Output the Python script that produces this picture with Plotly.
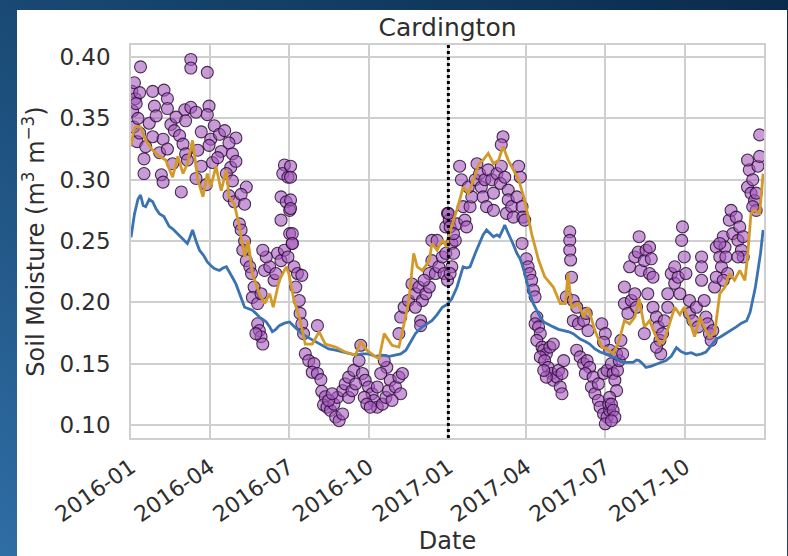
import base64
from datetime import date, timedelta

import plotly.graph_objects as go

# ---- data: day offsets from 2016-01-01 and volumetric soil moisture ----
START = date(2016, 1, 1)

model_a_day = [0, 4, 8, 11, 14, 17, 21, 25, 29, 33, 38, 41, 44, 48, 52, 56, 60, 65, 68, 71, 75, 79,
               84, 88, 92, 96, 102, 106, 110, 115, 118, 121, 126, 131, 135, 140, 144, 148, 152, 156,
               160, 163, 167, 171, 177, 183, 190, 197, 205, 213, 220, 228, 236, 244, 251, 259, 266,
               274, 282, 290, 298, 305, 311, 317, 322, 328, 336, 342, 347, 353, 359, 364, 370, 376,
               380, 383, 387, 391, 397, 402, 406, 410, 414, 418, 422, 425, 428, 431, 434, 437, 441,
               445, 449, 452, 456, 460, 464, 468, 472, 476, 481, 487, 493, 499, 505, 510, 514, 518,
               524, 529, 535, 541, 547, 552, 556, 560, 564, 567, 573, 579, 583, 586, 590, 594, 600,
               606, 611, 617, 623, 629, 634, 640, 646, 652, 658, 663, 669, 675, 680, 686, 692, 698,
               704, 710, 714, 717, 720, 723, 726, 729]
model_a_sm = [0.253, 0.272, 0.284, 0.2875, 0.279, 0.278, 0.284, 0.282, 0.276, 0.272, 0.270, 0.266,
              0.262, 0.260, 0.257, 0.254, 0.251, 0.248, 0.253, 0.259, 0.250, 0.2425, 0.238, 0.233,
              0.230, 0.2275, 0.226, 0.228, 0.229, 0.222, 0.219, 0.215, 0.205, 0.196, 0.195, 0.1935,
              0.191, 0.188, 0.186, 0.184, 0.180, 0.176, 0.178, 0.181, 0.183, 0.184, 0.179, 0.1745,
              0.171, 0.168, 0.165, 0.162, 0.161, 0.1595, 0.158, 0.157, 0.158, 0.158, 0.156, 0.157,
              0.156, 0.157, 0.158, 0.161, 0.167, 0.1745, 0.180, 0.183, 0.185, 0.190, 0.196, 0.198,
              0.203, 0.2125, 0.222, 0.229, 0.228, 0.229, 0.240, 0.249, 0.255, 0.259, 0.256, 0.2535,
              0.255, 0.2535, 0.258, 0.263, 0.258, 0.2535, 0.247, 0.240, 0.235, 0.229, 0.218, 0.207,
              0.199, 0.1935, 0.188, 0.184, 0.182, 0.180, 0.178, 0.177, 0.176, 0.1745, 0.172, 0.170,
              0.168, 0.166, 0.162, 0.1595, 0.158, 0.157, 0.155, 0.154, 0.152, 0.151, 0.151, 0.151,
              0.153, 0.1525, 0.150, 0.147, 0.148, 0.150, 0.151, 0.1525, 0.156, 0.163, 0.160, 0.158,
              0.159, 0.157, 0.158, 0.1595, 0.165, 0.170, 0.172, 0.1745, 0.177, 0.180, 0.183, 0.185,
              0.192, 0.2015, 0.212, 0.226, 0.240, 0.259]

model_b_day = [0, 3, 5, 11, 17, 25, 33, 40, 48, 54, 60, 65, 71, 77, 83, 88, 92, 98, 104, 110, 113,
               119, 125, 131, 135, 140, 148, 154, 160, 164, 171, 179, 182, 188, 194, 201, 209, 217,
               224, 236, 247, 259, 265, 272, 282, 286, 292, 301, 309, 315, 320, 326, 330, 336, 344,
               347, 353, 359, 364, 367, 372, 377, 383, 389, 395, 401, 406, 412, 418, 424, 429, 435,
               441, 447, 454, 462, 470, 477, 487, 495, 501, 504, 508, 516, 522, 527, 535, 543, 548,
               556, 563, 569, 575, 581, 586, 592, 598, 604, 610, 615, 621, 627, 633, 638, 644, 650,
               656, 661, 667, 673, 679, 685, 690, 696, 702, 708, 711, 715, 719, 725, 729]
model_b_sm = [0.327, 0.340, 0.343, 0.343, 0.332, 0.324, 0.319, 0.316, 0.302, 0.319, 0.305, 0.313,
              0.332, 0.300, 0.286, 0.305, 0.294, 0.311, 0.291, 0.308, 0.286, 0.2805, 0.262, 0.237,
              0.2505, 0.2235, 0.207, 0.199, 0.207, 0.196, 0.218, 0.229, 0.2235, 0.2015, 0.188,
              0.166, 0.166, 0.176, 0.166, 0.1635, 0.1595, 0.157, 0.168, 0.161, 0.1555, 0.154,
              0.1745, 0.165, 0.1635, 0.1825, 0.199, 0.240, 0.229, 0.226, 0.234, 0.248, 0.2425,
              0.251, 0.245, 0.256, 0.267, 0.278, 0.294, 0.289, 0.300, 0.313, 0.316, 0.3215, 0.313,
              0.316, 0.327, 0.316, 0.308, 0.300, 0.2835, 0.256, 0.2345, 0.221, 0.2125, 0.199,
              0.199, 0.2235, 0.196, 0.199, 0.188, 0.196, 0.177, 0.1635, 0.1625, 0.158, 0.169,
              0.185, 0.1825, 0.188, 0.203, 0.180, 0.185, 0.1745, 0.166, 0.169, 0.1825, 0.196,
              0.190, 0.196, 0.185, 0.172, 0.188, 0.180, 0.172, 0.1745, 0.207, 0.2125, 0.2235,
              0.218, 0.226, 0.218, 0.237, 0.2725, 0.275, 0.2725, 0.305]

# in-situ observations (COSMOS probe), grouped by season
obs_day = [
    # winter / spring 2016
    1, 2, 3, 5, 7, 11, 69, 69, 88,
    4, 10, 25, 38, 42,
    6, 27, 42, 62, 69, 90,
    8, 21, 29, 46, 52, 63, 75, 88, 96,
    10, 25, 37, 50, 56, 81, 92, 102, 108, 121,
    17, 33, 42, 60, 63, 77, 90, 104, 113, 117,
    15, 48, 65, 81, 94, 100, 115, 121,
    15, 35, 37, 75, 87, 110, 117, 133,
    58, 113, 119, 127, 131,
    # drying, early summer 2016
    125, 127, 131, 129, 133, 137, 139, 142, 140, 146, 150, 154, 160, 165, 167, 169, 173, 177,
    181, 156, 152,
    146, 148, 150, 152, 144,
    177, 175, 181, 173, 179, 183, 173, 183, 186,
    184, 184, 184, 184, 186, 186, 188, 192, 197, 190, 194, 195, 197, 199, 215,
    # late summer / autumn 2016
    201, 205, 211, 209, 215, 219, 220, 224, 222, 226, 230, 236, 240, 244, 234, 238, 244, 247,
    251, 257, 263, 265, 267, 270, 274, 278, 280, 284, 290, 294, 297, 299, 305, 309, 313, 311,
    301, 295, 292, 288, 284, 251, 255, 259, 269, 272, 276, 228, 232,
    309, 311, 315, 320, 324, 328, 332, 336, 340, 344, 344, 338, 334, 334, 328, 347, 351, 355,
    359, 363, 361, 365, 347, 363, 365, 367, 353,
    # winter / spring 2017
    366, 368, 370, 372, 370, 368, 374, 376, 372,
    379, 381, 383, 385, 387, 391, 393, 389, 397, 399, 402, 404, 406, 410, 408, 412, 416, 418,
    418, 422, 426, 427, 429, 427, 431, 435, 435, 433, 439, 441, 445, 447, 449, 451, 452, 454,
    451,
    456, 458, 460, 462, 464, 466, 468, 466, 470, 472, 468, 474, 476, 479, 483, 487, 472, 477,
    481, 485, 487, 491, 493, 497, 495, 497, 499, 479, 476,
    # summer 2017
    506, 506, 506, 507, 508, 502, 510, 514, 510, 516, 522, 525, 527, 543, 547, 545,
    514, 518, 522, 526, 529, 524, 533, 531, 535, 539, 541, 545, 549, 547, 552, 551, 545, 549,
    539,
    552, 554, 556, 558, 560, 552, 554, 556, 558, 554, 561, 563, 560, 567, 565,
    # autumn / winter 2017
    569, 569, 573, 577, 581, 583, 575, 581, 586, 585, 588, 592, 594, 598, 600, 598, 602, 596,
    592, 602, 606, 608, 610, 611, 606, 613, 615, 619, 619, 623, 627, 627, 631, 633, 635, 636,
    638, 640, 644, 644, 648, 652, 658, 658, 658, 654, 661, 663, 665, 667, 669, 671, 673, 675,
    675, 679, 681, 683, 685, 686, 688, 690, 694, 692, 698, 700, 702, 704, 706, 706, 700, 679,
    683,
    711, 713, 717, 715, 719, 721, 723, 725, 725, 721, 717, 711,
]
obs_sm = [
    0.372, 0.356, 0.343, 0.366, 0.331, 0.392, 0.398, 0.391, 0.3875,
    0.379, 0.371, 0.372, 0.373, 0.366,
    0.362, 0.360, 0.358, 0.357, 0.359, 0.360,
    0.350, 0.346, 0.352, 0.345, 0.351, 0.348, 0.355, 0.353, 0.344,
    0.338, 0.335, 0.333, 0.340, 0.336, 0.339, 0.333, 0.337, 0.340, 0.334,
    0.327, 0.322, 0.325, 0.329, 0.321, 0.324, 0.328, 0.323, 0.330, 0.321,
    0.317, 0.313, 0.316, 0.311, 0.314, 0.318, 0.310, 0.315,
    0.305, 0.304, 0.298, 0.301, 0.296, 0.305, 0.299, 0.294,
    0.290, 0.287, 0.282, 0.288, 0.280,
    0.264, 0.259, 0.250, 0.2425, 0.234, 0.229, 0.2235, 0.2125, 0.204, 0.199, 0.207, 0.226,
    0.229, 0.218, 0.2235, 0.240, 0.234, 0.2425, 0.237, 0.237, 0.2425,
    0.1825, 0.177, 0.172, 0.166, 0.1745,
    0.312, 0.305, 0.302, 0.286, 0.282, 0.275, 0.267, 0.256, 0.248,
    0.311, 0.302, 0.2835, 0.2765, 0.256, 0.248, 0.229, 0.2235, 0.222, 0.2125, 0.2015, 0.191,
    0.1825, 0.1745, 0.181,
    0.158, 0.1525, 0.150, 0.143, 0.142, 0.137, 0.1275, 0.123, 0.1165, 0.1145, 0.112, 0.1065,
    0.1035, 0.109, 0.117, 0.1225, 0.128, 0.1335, 0.139, 0.1445, 0.1525, 0.165, 0.142, 0.1365,
    0.131, 0.1255, 0.120, 0.1145, 0.117, 0.1225, 0.128, 0.1365, 0.131, 0.139, 0.142, 0.1255,
    0.120, 0.147, 0.1525, 0.142, 0.131, 0.1225, 0.128, 0.1335, 0.1225, 0.117, 0.1145, 0.120,
    0.1255,
    0.1745, 0.188, 0.196, 0.2015, 0.215, 0.207, 0.2125, 0.2015, 0.207, 0.2125, 0.2235, 0.218,
    0.185, 0.181, 0.196, 0.234, 0.2235, 0.229, 0.237, 0.240, 0.2235, 0.218, 0.2505, 0.2615,
    0.2725, 0.267, 0.2505,
    0.2725, 0.2615, 0.248, 0.240, 0.229, 0.2235, 0.2505, 0.264, 0.256,
    0.311, 0.300, 0.278, 0.267, 0.2615, 0.278, 0.286, 0.294, 0.300, 0.313, 0.305, 0.294,
    0.286, 0.278, 0.300, 0.308, 0.300, 0.289, 0.275, 0.305, 0.297, 0.311, 0.335, 0.3285,
    0.302, 0.2915, 0.2835, 0.2725, 0.278, 0.2695, 0.286, 0.311, 0.302, 0.278, 0.2695, 0.267,
    0.248,
    0.2355, 0.229, 0.2235, 0.218, 0.210, 0.2045, 0.188, 0.1825, 0.180, 0.1745, 0.169, 0.1635,
    0.161, 0.158, 0.1635, 0.166, 0.1555, 0.1525, 0.147, 0.142, 0.1365, 0.139, 0.1445, 0.142,
    0.131, 0.1255, 0.1525, 0.139, 0.1445,
    0.2575, 0.2505, 0.2425, 0.2345, 0.2205, 0.2045, 0.2015, 0.196, 0.185, 0.1825, 0.185,
    0.191, 0.177, 0.1825, 0.1745, 0.1675,
    0.161, 0.1555, 0.150, 0.1525, 0.147, 0.142, 0.139, 0.131, 0.1255, 0.120, 0.1145, 0.109,
    0.1065, 0.101, 0.112, 0.117, 0.142, 0.1445, 0.1335,
    0.161, 0.150, 0.142, 0.1365, 0.128, 0.1225, 0.117, 0.112, 0.1065, 0.1035, 0.1445, 0.1525,
    0.158, 0.158, 0.169,
    0.2125, 0.199, 0.191, 0.2015, 0.207, 0.196, 0.229, 0.237, 0.2535, 0.241, 0.226, 0.234,
    0.2425, 0.245, 0.2355, 0.2235, 0.2205, 0.207, 0.1745, 0.196, 0.188, 0.180, 0.169, 0.158,
    0.1635, 0.1745, 0.185, 0.207, 0.196, 0.2235, 0.229, 0.2155, 0.2205, 0.207, 0.2505,
    0.2615, 0.237, 0.2235, 0.2015, 0.191, 0.185, 0.196, 0.237, 0.229, 0.218, 0.180, 0.2015,
    0.188, 0.1825, 0.1745, 0.169, 0.177, 0.2125, 0.2205, 0.245, 0.237, 0.229, 0.2535, 0.245,
    0.237, 0.2235, 0.267, 0.256, 0.275, 0.2695, 0.2505, 0.2615, 0.2425, 0.2535, 0.237, 0.237,
    0.248, 0.218,
    0.294, 0.308, 0.300, 0.289, 0.283, 0.275, 0.311, 0.319, 0.3365, 0.289, 0.278, 0.316,
]

Y_TICKS = [0.10, 0.15, 0.20, 0.25, 0.30, 0.35, 0.40]


def to_dates(days):
    return [START + timedelta(days=d) for d in days]


# ---- styling ----
W, H = 788, 556
ML, MR, MT, MB = 131, 24, 45, 118
PW, PH = W - ML - MR, H - MT - MB
TEXT = "#2e2e2e"
GRID = "#cfcfcf"
FONT = "DejaVu Sans"

fig = go.Figure()

fig.add_trace(go.Scatter(
    x=to_dates(obs_day), y=obs_sm, mode="markers", name="COSMOS",
    marker=dict(size=12, color="rgba(165,90,190,0.6)",
                line=dict(color="rgba(45,15,55,0.85)", width=1.1)),
))
fig.add_trace(go.Scatter(
    x=to_dates(model_a_day), y=model_a_sm, mode="lines", name="model A",
    line=dict(color="#3b72b0", width=2.8),
))
fig.add_trace(go.Scatter(
    x=to_dates(model_b_day), y=model_b_sm, mode="lines", name="model B",
    line=dict(color="#d39a2a", width=2.8),
))

# slide-style background: blue gradient with a white card behind the chart
svg = (
    f'<svg xmlns="http://www.w3.org/2000/svg" width="{W}" height="{H}">'
    '<defs><linearGradient id="g" x1="0" y1="1" x2="1" y2="0">'
    '<stop offset="0" stop-color="#2f6da5"/><stop offset="0.55" stop-color="#17466f"/>'
    '<stop offset="1" stop-color="#0a2b4c"/></linearGradient></defs>'
    f'<rect width="{W}" height="{H}" fill="url(#g)"/></svg>'
)
bg_src = "data:image/svg+xml;base64," + base64.b64encode(svg.encode()).decode()


def px_x(p):
    return (p - ML) / PW


def px_y(p):
    return (H - MB - p) / PH


fig.add_layout_image(
    source=bg_src, xref="paper", yref="paper",
    x=px_x(0), y=px_y(0), sizex=W / PW, sizey=H / PH,
    xanchor="left", yanchor="top", sizing="stretch", layer="below",
)

fig.add_shape(type="rect", xref="paper", yref="paper",
              x0=px_x(17), x1=px_x(787), y0=px_y(H + 2), y1=px_y(10),
              fillcolor="white", line=dict(width=0), layer="below")

# start of the second year
fig.add_shape(type="line", xref="x", yref="paper",
              x0=date(2017, 1, 1), x1=date(2017, 1, 1), y0=0, y1=1,
              line=dict(color="black", width=3, dash="dot"), layer="above")

fig.update_layout(
    width=W, height=H,
    margin=dict(l=ML, r=MR, t=MT, b=MB, autoexpand=False),
    paper_bgcolor="#17466f", plot_bgcolor="white",
    font=dict(family=FONT, size=23, color=TEXT),
    showlegend=False,
    title=dict(text="Cardington", x=(ML + PW / 2) / W, xanchor="center",
               y=1 - 27 / H, yanchor="middle", font=dict(size=25, color=TEXT)),
)

fig.update_xaxes(
    range=[date(2016, 1, 1), date(2017, 12, 31)],
    tick0="2016-01-01", dtick="M3", tickformat="%Y-%m", tickangle=-35,
    showgrid=True, gridcolor=GRID, gridwidth=1.6,
    showline=True, linecolor=GRID, linewidth=1.6, mirror=True,
    ticks="", ticklabelstandoff=6, zeroline=False, automargin=False,
    tickfont=dict(size=22),
    title=dict(text="Date", standoff=0, font=dict(size=24)),
)
fig.update_yaxes(
    range=[0.0894, 0.4098],
    tickvals=Y_TICKS, tickformat=".2f",
    showgrid=True, gridcolor=GRID, gridwidth=1.6,
    showline=True, linecolor=GRID, linewidth=1.6, mirror=True,
    ticks="", ticklabelstandoff=14, zeroline=False, automargin=False,
    tickfont=dict(size=23),
    title=dict(text="Soil Moisture (m<sup>3</sup> m<sup>−3</sup>)", standoff=8,
               font=dict(size=24)),
)

fig.write_html("out.html")
